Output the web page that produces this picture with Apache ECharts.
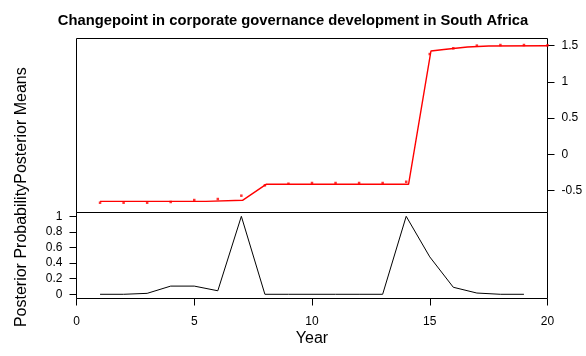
<!DOCTYPE html>
<html>
<head>
<meta charset="utf-8">
<script src="https://cdn.jsdelivr.net/npm/echarts@6/dist/echarts.min.js"></script>
<style>
html,body{margin:0;padding:0;background:#fff;}
#chart{width:586px;height:356px;}
</style>
</head>
<body>
<div id="chart"></div>
<script>
// ---- data ----
var titleText = "Changepoint in corporate governance development in South Africa";
var meanYears = [1,2,3,4,5,6,7,8,9,10,11,12,13,14,15,16,17,18,19,20];
var posteriorMeans = [-0.667,-0.667,-0.667,-0.657,-0.630,-0.616,-0.570,-0.427,-0.405,-0.395,-0.395,-0.395,-0.395,-0.378,1.384,1.463,1.500,1.508,1.508,1.504];
var fitX = [1,5.5,5.5,7.05,8.05,14.1,15.05,15.6,16.6,17.5,20];
var fitY = [-0.648,-0.648,-0.634,-0.634,-0.413,-0.413,1.425,1.447,1.480,1.495,1.498];
var probYears = [1,2,3,4,5,6,7,8,9,10,11,12,13,14,15,16,17,18,19];
var posteriorProbs = [0,0,0.012,0.105,0.105,0.045,1.0,0,0,0,0,0,0,1.0,0.48,0.09,0.016,0,0];
var meanTicks = [-0.5,0,0.5,1,1.5];
var probTicks = [0,0.2,0.4,0.6,0.8,1];
var yearStep = 5;

var FONT = "'Liberation Sans', Arial, sans-serif";
function pairs(xs, ys){ return xs.map(function(x,i){ return [x, ys[i]]; }); }

var chart = echarts.init(document.getElementById('chart'), null, {renderer:'canvas'});
function tick(vals){
  var t = {show:true, inside:false, length:7, lineStyle:{color:'#000', width:1}};
  if (vals) t.customValues = vals;
  return t;
}
function lab(vals, m, pad){
  var l = {color:'#000', fontSize:12, fontFamily:FONT, margin:m, padding:pad};
  if (vals) l.customValues = vals;
  return l;
}
var noLine = {show:false, onZero:false};

chart.setOption({
  animation:false,
  backgroundColor:'#fff',
  title:{
    text:titleText, left:'center', top:13, padding:0,
    textStyle:{fontFamily:FONT, fontSize:14.75, fontWeight:'bold', color:'#000'}
  },
  grid:[
    {left:76.5, top:38.5, width:471, height:174, show:true, borderColor:'#000', borderWidth:1, backgroundColor:'transparent', containLabel:false},
    {left:76.5, top:212.5, width:471, height:86, show:true, borderColor:'#000', borderWidth:1, backgroundColor:'transparent', containLabel:false}
  ],
  xAxis:[
    {type:'value', gridIndex:0, min:0, max:20, show:false, axisLine:noLine},
    {type:'value', gridIndex:1, position:'bottom', min:0, max:20, interval:yearStep,
     axisLine:noLine, axisTick:tick(null), splitLine:{show:false},
     axisLabel:lab(null, 17, 0),
     name:'Year', nameLocation:'middle', nameGap:32,
     nameTextStyle:{color:'#000', fontSize:16, fontFamily:FONT}}
  ],
  yAxis:[
    {type:'value', gridIndex:0, position:'right', min:-0.802, max:1.598,
     axisLine:noLine, splitLine:{show:false},
     axisTick:tick(meanTicks), axisLabel:lab(meanTicks, 14, [2,0,0,0])},
    {type:'value', gridIndex:1, position:'left', min:-0.054, max:1.049,
     axisLine:noLine, splitLine:{show:false},
     axisTick:tick(probTicks), axisLabel:lab(probTicks, 14, [2,0,0,0])}
  ],
  graphic:[
    {type:'text', x:22, y:125.5, rotation:Math.PI/2,
     style:{text:'Posterior Means', fontSize:16, fontFamily:FONT, fill:'#000', align:'center', verticalAlign:'middle'}},
    {type:'text', x:22, y:255.5, rotation:Math.PI/2,
     style:{text:'Posterior Probability', fontSize:16, fontFamily:FONT, fill:'#000', align:'center', verticalAlign:'middle'}}
  ],
  series:[
    {type:'line', xAxisIndex:0, yAxisIndex:0, data:pairs(fitX, fitY), showSymbol:false, symbol:'none',
     lineStyle:{color:'#ff0000', width:1.4}, silent:true},
    {type:'scatter', xAxisIndex:0, yAxisIndex:0, data:pairs(meanYears, posteriorMeans), symbol:'rect', symbolSize:2.5,
     itemStyle:{color:'#ff0000'}, silent:true},
    {type:'line', xAxisIndex:1, yAxisIndex:1, data:pairs(probYears, posteriorProbs), showSymbol:false, symbol:'none',
     lineStyle:{color:'#000', width:1}, silent:true}
  ]
});
</script>
</body>
</html>
